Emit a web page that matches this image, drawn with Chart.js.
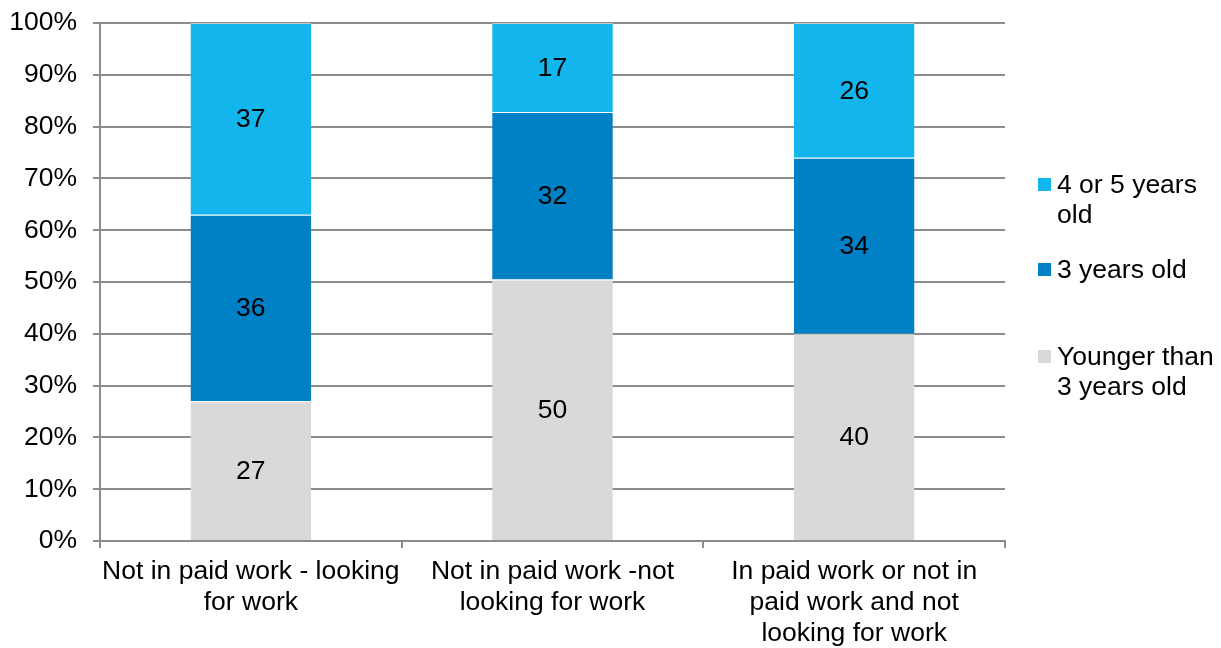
<!DOCTYPE html>
<html>
<head>
<meta charset="utf-8">
<script src="https://cdn.jsdelivr.net/npm/chart.js@4"></script>
<style>
  html, body { margin: 0; padding: 0; background: #fff; }
  #wrap { width: 1221px; height: 648px; }
</style>
</head>
<body>
<div id="wrap"><canvas id="ageChart" width="1221" height="648"></canvas></div>
<script>
const categories = [
  ["Not in paid work - looking", "for work"],
  ["Not in paid work -not", "looking for work"],
  ["In paid work or not in", "paid work and not", "looking for work"]
];
const younger = [27, 50, 40];
const threeYears = [36, 32, 34];
const fourFive = [37, 17, 26];

const seriesNames = ["Younger than 3 years old", "3 years old", "4 or 5 years old"];
const legendLines = [["4 or 5 years", "old"], ["3 years old"], ["Younger than", "3 years old"]];
const colors = ["#d9d9d9", "#0081c6", "#12b6ec"];

const FONT = "'Liberation Sans', Arial, sans-serif";
const FS = 26.5;

// each column is shown as share of its own total (100% stacked)
const totals = younger.map((v, i) => v + threeYears[i] + fourFive[i]);
const share = arr => arr.map((v, i) => v / totals[i] * 100);
const rawValues = [younger, threeYears, fourFive];

const valueLabels = {
  id: "valueLabels",
  afterDatasetsDraw(chart) {
    const ctx = chart.ctx;
    ctx.save();
    ctx.font = FS + "px " + FONT;
    ctx.fillStyle = "#000";
    ctx.textAlign = "center";
    ctx.textBaseline = "middle";
    chart.data.datasets.forEach((ds, di) => {
      chart.getDatasetMeta(di).data.forEach((bar, i) => {
        const mid = (bar.y + bar.base) / 2;
        ctx.fillText(String(rawValues[di][i]), bar.x, mid + 1);
      });
    });
    ctx.restore();
  }
};

const sideLegend = {
  id: "sideLegend",
  afterDraw(chart) {
    const ctx = chart.ctx;
    const blocks = [
      { color: colors[2], lines: legendLines[0], y: 185 },
      { color: colors[1], lines: legendLines[1], y: 270 },
      { color: colors[0], lines: legendLines[2], y: 357 }
    ];
    ctx.save();
    ctx.font = FS + "px " + FONT;
    ctx.textBaseline = "middle";
    ctx.textAlign = "left";
    blocks.forEach(b => {
      ctx.fillStyle = b.color;
      ctx.fillRect(1038, b.y - 7, 13, 13);
      ctx.fillStyle = "#000";
      b.lines.forEach((t, k) => ctx.fillText(t, 1057, b.y + 1 + k * 29.5));
    });
    ctx.restore();
  }
};

new Chart(document.getElementById("ageChart"), {
  type: "bar",
  data: {
    labels: categories,
    datasets: [
      { label: seriesNames[0], data: share(younger), backgroundColor: colors[0] },
      { label: seriesNames[1], data: share(threeYears), backgroundColor: colors[1] },
      { label: seriesNames[2], data: share(fourFive), backgroundColor: colors[2] }
    ].map(d => Object.assign(d, {
      borderColor: "rgba(255,255,255,0.5)",
      borderWidth: { top: 1, bottom: 0, left: 0, right: 0 },
      borderSkipped: false,
      barPercentage: 0.4,
      categoryPercentage: 1
    }))
  },
  options: {
    responsive: false,
    animation: false,
    layout: { padding: { top: 23, right: 216, left: 0, bottom: 0 } },
    plugins: { legend: { display: false }, tooltip: { enabled: false } },
    scales: {
      x: {
        stacked: true,
        offset: true,
        grid: {
          offset: true,
          drawOnChartArea: false,
          color: "#8c8c8c",
          lineWidth: 2,
          tickLength: 7
        },
        border: { color: "#8c8c8c", width: 2 },
        ticks: {
          color: "#000",
          font: { family: FONT, size: FS, lineHeight: 1.18 },
          padding: 8,
          maxRotation: 0,
          autoSkip: false
        },
        afterFit(axis) {
          axis.height = 107;
          axis.paddingLeft = 0;
          axis.paddingRight = 0;
        }
      },
      y: {
        stacked: true,
        min: 0,
        max: 100,
        grid: { color: "#8c8c8c", lineWidth: 2, tickLength: 7 },
        border: { color: "#8c8c8c", width: 2 },
        ticks: {
          stepSize: 10,
          color: "#000",
          font: { family: FONT, size: FS },
          padding: 16,
          callback: v => v + "%"
        },
        afterFit(axis) {
          axis.width = 100;
          axis.paddingTop = 0;
          axis.paddingBottom = 0;
        }
      }
    }
  },
  plugins: [valueLabels, sideLegend]
});
</script>
</body>
</html>
